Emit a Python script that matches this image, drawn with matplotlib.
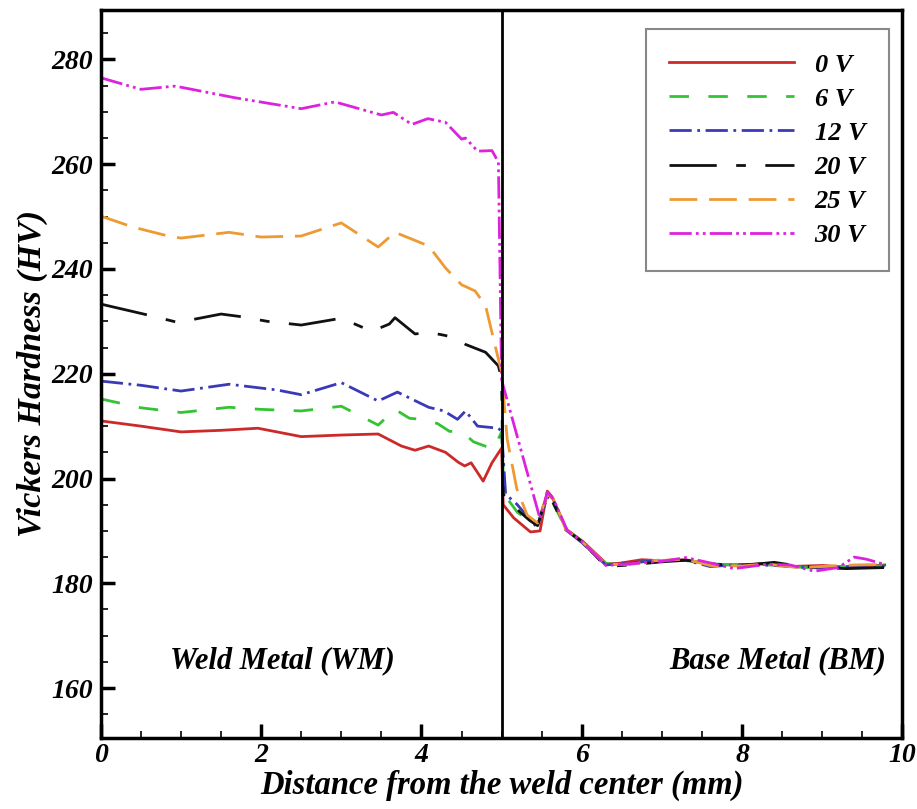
import matplotlib
matplotlib.use("Agg")
import matplotlib.pyplot as plt
from matplotlib.ticker import MultipleLocator

plt.rcParams['font.family'] = ['Liberation Serif', 'DejaVu Serif']
plt.rcParams['font.weight'] = 'bold'
plt.rcParams['font.style'] = 'italic'
plt.rcParams['axes.labelweight'] = 'bold'
plt.rcParams['lines.scale_dashes'] = False

labels = ['0 V', '6 V', '12 V', '20 V', '25 V', '30 V']

x0 = [0, 0.5, 1.0, 1.5, 1.96, 2.5, 3.0, 3.46, 3.75, 3.92, 4.09, 4.3, 4.46, 4.54, 4.62, 4.77, 4.88, 5.0,
      5.02, 5.15, 5.36, 5.48, 5.57, 5.63, 5.81, 6.02, 6.31, 6.46, 6.75, 7.0, 7.3, 7.6, 8.0, 8.3, 8.6,
      9.0, 9.3, 9.6, 9.78]
y0 = [211.0, 210.0, 208.9, 209.2, 209.6, 208.0, 208.3, 208.5, 206.2, 205.4, 206.2, 205.0, 203.1, 202.4,
      203.0, 199.5, 203.0, 205.8, 195.0, 192.5, 189.8, 190.0, 197.6, 196.5, 190.3, 187.9, 183.7, 183.8,
      184.5, 184.3, 184.5, 183.6, 183.5, 183.8, 183.2, 183.4, 183.1, 183.3, 183.5]

x1 = [0, 0.5, 1.0, 1.6, 2.0, 2.5, 3.0, 3.46, 3.67, 3.85, 4.0, 4.2, 4.35, 4.5, 4.65, 4.9, 5.0,
      5.03, 5.2, 5.45, 5.56, 5.62, 5.8, 6.0, 6.3, 6.5, 6.8, 7.1, 7.4, 7.8, 8.1, 8.5, 8.8, 9.1,
      9.4, 9.78]
y1 = [215.2, 213.5, 212.6, 213.6, 213.2, 212.9, 213.8, 210.2, 213.2, 211.5, 211.3, 210.5, 209.0,
      209.0, 207.0, 205.6, 208.9, 197.0, 193.5, 191.0, 196.5, 196.0, 190.5, 188.0, 183.8, 183.5,
      184.2, 184.6, 184.2, 183.5, 183.8, 183.3, 183.0, 183.3, 183.0, 183.4]

x2 = [0, 0.5, 1.0, 1.6, 2.2, 2.5, 3.0, 3.46, 3.7, 4.09, 4.28, 4.45, 4.55, 4.7, 4.96, 5.0, 5.05,
      5.19, 5.44, 5.57, 5.65, 5.82, 6.0, 6.3, 6.6, 6.9, 7.3, 7.6, 8.0, 8.4, 8.7, 9.0, 9.35, 9.78]
y2 = [218.6, 217.8, 216.7, 218.0, 216.9, 216.0, 218.3, 214.8, 216.5, 213.6, 212.9, 211.3, 212.9,
      210.0, 209.6, 209.0, 197.0, 195.1, 190.7, 196.5, 195.5, 190.0, 187.8, 183.5, 183.9, 184.3,
      184.4, 183.2, 183.6, 183.4, 183.1, 182.9, 183.2, 183.3]

x3 = [0, 0.59, 0.96, 1.5, 1.75, 2.08, 2.5, 3.0, 3.38, 3.6, 3.67, 3.92, 4.1, 4.3, 4.46, 4.55, 4.8,
      4.96, 5.0, 5.02, 5.23, 5.35, 5.45, 5.56, 5.64, 5.8, 6.0, 6.3, 6.6, 7.0, 7.3, 7.7, 8.0, 8.4,
      8.7, 9.0, 9.3, 9.78]
y3 = [233.3, 231.2, 229.8, 231.4, 230.9, 230.0, 229.3, 230.6, 228.1, 229.5, 230.7, 227.6, 227.9,
      227.3, 226.6, 225.6, 224.1, 221.5, 219.0, 197.0, 193.6, 192.0, 191.0, 196.8, 195.5, 190.2,
      188.0, 183.2, 183.5, 184.1, 184.4, 183.6, 183.4, 184.0, 183.3, 183.0, 182.8, 183.0]

x4 = [0, 0.4, 0.84, 1.0, 1.6, 2.0, 2.5, 3.0, 3.46, 3.67, 4.09, 4.3, 4.5, 4.67, 4.8, 4.92, 5.0,
      5.07, 5.19, 5.32, 5.45, 5.57, 5.65, 5.8, 6.0, 6.3, 6.6, 6.9, 7.3, 7.6, 8.0, 8.3, 8.7, 9.0,
      9.4, 9.78]
y4 = [250.1, 248.0, 246.3, 245.9, 247.0, 246.1, 246.3, 248.8, 244.2, 247.0, 244.4, 240.2, 237.0,
      235.8, 233.0, 225.3, 220.3, 207.5, 198.0, 193.0, 191.5, 197.0, 196.0, 190.3, 188.0, 183.6,
      183.6, 184.3, 184.6, 183.4, 183.3, 183.7, 183.0, 183.2, 183.5, 183.6]

x5 = [0, 0.5, 0.92, 1.0, 1.67, 2.5, 2.92, 3.5, 3.65, 3.88, 4.08, 4.3, 4.5, 4.55, 4.7, 4.88, 4.96,
      5.0, 5.02, 5.48, 5.57, 5.65, 5.82, 6.0, 6.3, 6.6, 7.0, 7.3, 7.6, 7.9, 8.3, 8.6, 8.9, 9.2,
      9.4, 9.55, 9.78]
y5 = [276.5, 274.3, 274.9, 274.7, 272.7, 270.6, 271.9, 269.4, 269.9, 267.6, 268.7, 268.0, 264.8,
      265.0, 262.5, 262.6, 260.4, 219.0, 217.7, 192.3, 197.4, 196.0, 190.0, 188.0, 183.4, 183.7,
      184.2, 184.9, 183.9, 182.8, 183.6, 183.5, 182.3, 183.0, 185.0, 184.6, 183.6]

xs = [x0, x1, x2, x3, x4, x5]
ys = [y0, y1, y2, y3, y4, y5]
colors = ['#cc2a2a', '#33c433', '#3a3ab8', '#111111', '#ee9a33', '#dd22dd']
dashes = [None, (14, 14), (16, 4, 2, 4), (34, 14, 7, 14), (20, 8.5), (16, 3, 2, 3, 2, 3)]

fig = plt.figure(figsize=(9.17, 8.09), dpi=100)
ax = fig.add_axes([0.110, 0.088, 0.874, 0.900])

for xv, yv, c, d, lab in zip(xs, ys, colors, dashes, labels):
    if d is None:
        ax.plot(xv, yv, color=c, lw=2.0, label=lab)
    else:
        ax.plot(xv, yv, color=c, lw=2.0, dashes=d, label=lab)

ax.axvline(5.0, color='black', lw=2.0)

ax.set_xlim(0, 10)
ax.set_ylim(150.5, 289.5)
ax.xaxis.set_major_locator(MultipleLocator(2))
ax.xaxis.set_minor_locator(MultipleLocator(0.5))
ax.yaxis.set_major_locator(MultipleLocator(20))
ax.yaxis.set_minor_locator(MultipleLocator(5))
ax.set_yticks([160, 180, 200, 220, 240, 260, 280])
ax.tick_params(which='major', direction='in', length=10, width=2.5, labelsize=20, pad=6)
ax.tick_params(axis='x', which='major', pad=4)
ax.tick_params(which='minor', direction='in', length=5, width=1.2)
for sp in ax.spines.values():
    sp.set_linewidth(2.5)

ax.set_xlabel('Distance from the weld center (mm)', fontsize=23.5, fontweight='bold', labelpad=1)
ax.set_ylabel('Vickers Hardness (HV)', fontsize=24.5, fontweight='bold', labelpad=2)

ax.text(2.26, 165.2, 'Weld Metal (WM)', fontsize=22, ha='center', va='center')
ax.text(9.8, 165.2, 'Base Metal (BM)', fontsize=22, ha='right', va='center')

leg = ax.legend(loc='upper right', bbox_to_anchor=(1.0, 0.991), fontsize=19,
                handlelength=4.7, handletextpad=0.8, labelspacing=0.4, borderpad=0.9,
                fancybox=False, edgecolor='#888888', framealpha=1)
leg.get_frame().set_linewidth(1.5)

fig.savefig('out.png', dpi=100)
